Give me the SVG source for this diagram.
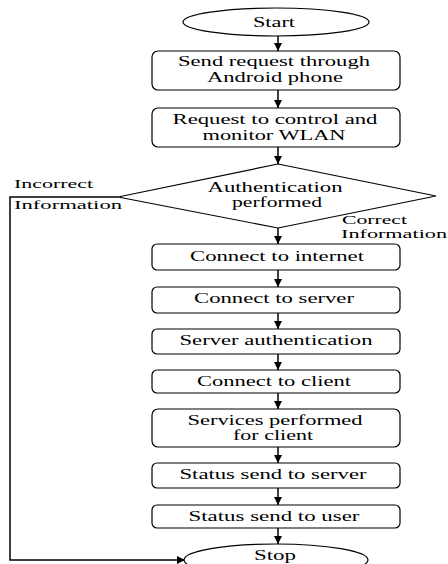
<svg xmlns="http://www.w3.org/2000/svg" width="448" height="564" viewBox="0 0 448 564">
<defs>
<marker id="ah" viewBox="0 0 10 10" refX="10" refY="5" markerWidth="8" markerHeight="8" markerUnits="userSpaceOnUse" orient="auto">
<path d="M0,0 L10,5 L0,10 z" fill="#000"/>
</marker>
<style>
.n{fill:#fff;stroke:#000;stroke-width:1.2}
.t{font-family:"Liberation Serif","DejaVu Serif",serif;font-size:14px;fill:#000;text-anchor:middle}
.l{font-family:"Liberation Serif","DejaVu Serif",serif;font-size:13.5px;fill:#000}
.c{fill:none;stroke:#000;stroke-width:1.5;marker-end:url(#ah)}
</style>
</defs>
<rect width="448" height="564" fill="#fff"/>
<g id="connectors">
<line class="c" x1="278" y1="36" x2="278" y2="51"/>
<line class="c" x1="278" y1="90" x2="278" y2="108"/>
<line class="c" x1="278" y1="147" x2="278" y2="164"/>
<line class="c" x1="278" y1="228" x2="278" y2="244"/>
<line class="c" x1="278" y1="270" x2="278" y2="287"/>
<line class="c" x1="278" y1="313" x2="278" y2="329"/>
<line class="c" x1="278" y1="354" x2="278" y2="370"/>
<line class="c" x1="278" y1="393" x2="278" y2="409"/>
<line class="c" x1="278" y1="447" x2="278" y2="463"/>
<line class="c" x1="278" y1="488" x2="278" y2="505"/>
<line class="c" x1="278" y1="528" x2="278" y2="544"/>
<polyline class="c" points="118,197 10,197 10,560 185,560"/>
<text class="l" x="14" y="188" textLength="79" lengthAdjust="spacingAndGlyphs">Incorrect</text>
<text class="l" x="14" y="209" textLength="108" lengthAdjust="spacingAndGlyphs">Information</text>
<text class="l" x="342" y="224" textLength="65" lengthAdjust="spacingAndGlyphs">Correct</text>
<text class="l" x="341" y="238" textLength="106" lengthAdjust="spacingAndGlyphs">Information</text>
</g>
<g id="start">
<ellipse class="n" cx="276" cy="22" rx="93" ry="14"/>
<text class="t" x="274" y="27" textLength="42" lengthAdjust="spacingAndGlyphs">Start</text>
</g>
<g id="send">
<rect class="n" x="152" y="51" width="248" height="39" rx="6"/>
<text class="t" x="274" y="66" textLength="192" lengthAdjust="spacingAndGlyphs">Send request through</text>
<text class="t" x="275" y="82" textLength="136" lengthAdjust="spacingAndGlyphs">Android phone</text>
</g>
<g id="request">
<rect class="n" x="152" y="108" width="248" height="39" rx="6"/>
<text class="t" x="275" y="124" textLength="205" lengthAdjust="spacingAndGlyphs">Request to control and</text>
<text class="t" x="274" y="140" textLength="143" lengthAdjust="spacingAndGlyphs">monitor WLAN</text>
</g>
<g id="auth">
<polygon class="n" points="278,164 436,196 278,228 118,197"/>
<text class="t" x="275" y="192" textLength="135" lengthAdjust="spacingAndGlyphs">Authentication</text>
<text class="t" x="277" y="207" textLength="90" lengthAdjust="spacingAndGlyphs">performed</text>
</g>
<g id="internet">
<rect class="n" x="152" y="244" width="248" height="26" rx="5"/>
<text class="t" x="277" y="261" textLength="174" lengthAdjust="spacingAndGlyphs">Connect to internet</text>
</g>
<g id="server">
<rect class="n" x="152" y="287" width="248" height="26" rx="5"/>
<text class="t" x="274" y="303" textLength="160" lengthAdjust="spacingAndGlyphs">Connect to server</text>
</g>
<g id="serverauth">
<rect class="n" x="152" y="329" width="248" height="25" rx="5"/>
<text class="t" x="276" y="345" textLength="193" lengthAdjust="spacingAndGlyphs">Server authentication</text>
</g>
<g id="client">
<rect class="n" x="152" y="370" width="248" height="23" rx="5"/>
<text class="t" x="274" y="386" textLength="154" lengthAdjust="spacingAndGlyphs">Connect to client</text>
</g>
<g id="services">
<rect class="n" x="152" y="409" width="248" height="38" rx="6"/>
<text class="t" x="275" y="425" textLength="175" lengthAdjust="spacingAndGlyphs">Services performed</text>
<text class="t" x="273" y="440" textLength="80" lengthAdjust="spacingAndGlyphs">for client</text>
</g>
<g id="statusserver">
<rect class="n" x="152" y="463" width="248" height="25" rx="5"/>
<text class="t" x="273" y="479" textLength="187" lengthAdjust="spacingAndGlyphs">Status send to server</text>
</g>
<g id="statususer">
<rect class="n" x="152" y="505" width="248" height="23" rx="5"/>
<text class="t" x="274" y="521" textLength="171" lengthAdjust="spacingAndGlyphs">Status send to user</text>
</g>
<g id="stop">
<ellipse class="n" cx="276" cy="560" rx="92" ry="16"/>
<text class="t" x="275" y="560" textLength="42" lengthAdjust="spacingAndGlyphs">Stop</text>
</g>
</svg>
